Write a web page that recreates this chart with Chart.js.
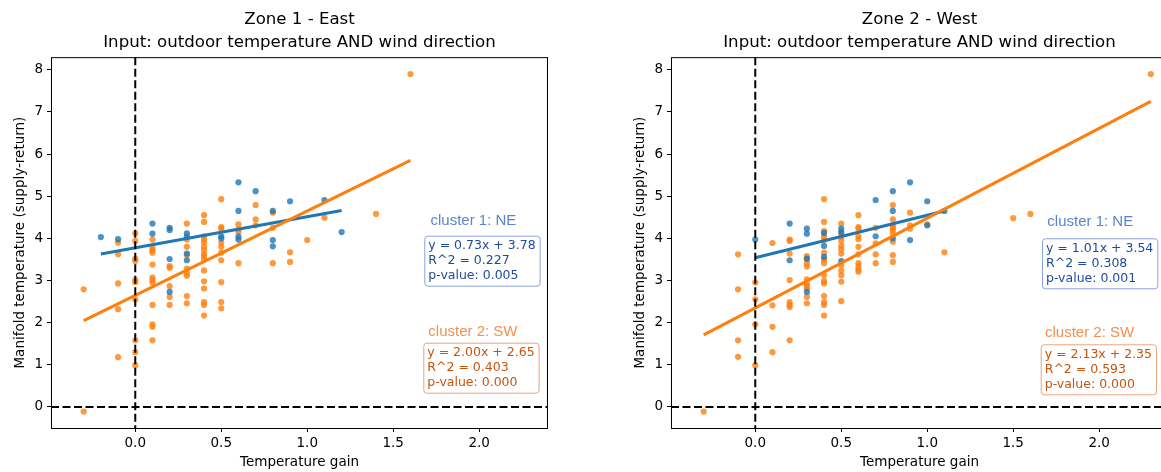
<!DOCTYPE html>
<html>
<head>
<meta charset="utf-8">
<script src="https://cdn.jsdelivr.net/npm/chart.js@4.4.1/dist/chart.umd.min.js"></script>
<style>
  html, body { margin: 0; padding: 0; background: #fff; overflow: hidden; }
  body { width: 1161px; height: 472px; position: relative; }
  .pane { position: absolute; top: 0; height: 472px; overflow: hidden; }
  #paneEast { left: 0; width: 580px; }
  #paneWest { left: 620px; width: 541px; }
  canvas { position: absolute; left: 0; top: 0; }
</style>
</head>
<body>
<div class="pane" id="paneEast"><canvas id="east" width="580" height="472"></canvas></div>
<div class="pane" id="paneWest"><canvas id="west" width="580" height="472"></canvas></div>
<script>
/* Zone scatter: temperature gain vs manifold temperature, two wind clusters */
const xTicks = [0, 0.5, 1.0, 1.5, 2.0];
const yTicks = [0, 1, 2, 3, 4, 5, 6, 7, 8];

// Zone 1 - East, cluster 1 (NE)
const eastNeX = [-0.2, -0.1, 0.1, 0.1, 0.2, 0.2, 0.2, 0.2, 0.3, 0.3, 0.3, 0.3, 0.5, 0.5,
  0.6, 0.6, 0.6, 0.6, 0.7, 0.8, 0.8, 0.8, 0.9, 1.1, 1.2];
const eastNeY = [4.03, 3.98, 4.35, 4.11, 4.25, 4.20, 3.51, 2.73, 4.12, 4.04, 3.64, 3.48, 4.05, 4.00,
  5.33, 4.65, 4.04, 3.97, 5.12, 4.65, 3.96, 3.81, 4.88, 4.91, 4.15];

// Zone 1 - East, cluster 2 (SW)
const eastSwX = [-0.3, -0.3,
  -0.1, -0.1, -0.1, -0.1, -0.1,
  0, 0, 0, 0, 0, 0, 0, 0, 0, 0,
  0.1, 0.1, 0.1, 0.1, 0.1, 0.1, 0.1, 0.1, 0.1, 0.1, 0.1, 0.1,
  0.2, 0.2, 0.2, 0.2, 0.2,
  0.3, 0.3, 0.3, 0.3, 0.3, 0.3, 0.3, 0.3, 0.3,
  0.4, 0.4, 0.4, 0.4, 0.4, 0.4, 0.4, 0.4, 0.4, 0.4, 0.4, 0.4, 0.4, 0.4, 0.4, 0.4,
  0.5, 0.5, 0.5, 0.5, 0.5, 0.5, 0.5, 0.5, 0.5, 0.5,
  0.6, 0.6, 0.6, 0.6,
  0.7, 0.7, 0.7,
  0.8, 0.8, 0.8,
  0.9, 0.9,
  1.0, 1.1, 1.4, 1.6];
const eastSwY = [2.79, -0.11,
  3.90, 3.62, 2.93, 2.32, 1.18,
  4.12, 3.94, 3.52, 3.46, 3.01, 2.96, 2.55, 1.58, 1.30, 0.99,
  3.97, 3.78, 3.72, 3.66, 3.38, 3.07, 3.01, 2.95, 2.42, 1.96, 1.90, 1.58,
  3.34, 3.30, 2.87, 2.61, 2.42,
  4.35, 3.97, 3.80, 3.60, 3.28, 3.18, 3.11, 2.63, 2.46,
  4.55, 4.39, 4.05, 3.97, 3.90, 3.80, 3.72, 3.62, 3.58, 3.50, 3.24, 2.98, 2.81, 2.49, 2.42, 2.17,
  4.93, 4.27, 4.23, 3.90, 3.80, 3.66, 3.48, 2.96, 2.49, 2.34,
  4.33, 4.21, 4.15, 3.41,
  4.79, 4.45, 4.31,
  4.61, 4.25, 3.41,
  3.67, 3.44,
  3.96, 4.49, 4.58, 7.90];

// Zone 2 - West, cluster 1 (NE)
const westNeX = [0, 0.2, 0.2, 0.3, 0.3, 0.3, 0.3, 0.4, 0.4, 0.4, 0.5, 0.5, 0.5,
  0.7, 0.7, 0.8, 0.8, 0.8, 0.9, 0.9, 1.0, 1.0, 1.1];
const westNeY = [3.97, 4.35, 3.48, 4.23, 4.11, 3.52, 2.73, 4.13, 3.82, 3.56, 4.23, 4.15, 3.46,
  4.91, 4.05, 5.12, 4.65, 4.00, 5.33, 3.96, 4.88, 4.31, 4.65];

// Zone 2 - West, cluster 2 (SW)
const westSwX = [-0.3,
  -0.1, -0.1, -0.1, -0.1,
  0, 0, 0, 0,
  0.1, 0.1, 0.1, 0.1,
  0.2, 0.2, 0.2, 0.2, 0.2, 0.2, 0.2, 0.2,
  0.3, 0.3, 0.3, 0.3, 0.3, 0.3, 0.3, 0.3, 0.3, 0.3,
  0.4, 0.4, 0.4, 0.4, 0.4, 0.4, 0.4, 0.4, 0.4, 0.4, 0.4, 0.4, 0.4, 0.4, 0.4,
  0.5, 0.5, 0.5, 0.5, 0.5, 0.5, 0.5, 0.5, 0.5, 0.5, 0.5, 0.5,
  0.6, 0.6, 0.6, 0.6, 0.6, 0.6, 0.6, 0.6, 0.6, 0.6, 0.6,
  0.7, 0.7, 0.7, 0.7,
  0.8, 0.8, 0.8, 0.8, 0.8, 0.8, 0.8, 0.8, 0.8,
  0.9, 0.9, 0.9,
  1.0, 1.1, 1.5, 1.6, 2.3];
const westSwY = [-0.11,
  3.62, 2.79, 1.58, 1.19,
  2.95, 2.55, 1.96, 0.99,
  3.89, 2.41, 1.90, 1.30,
  3.97, 3.94, 3.64, 3.01, 2.49, 2.42, 2.37, 1.58,
  3.58, 3.50, 3.41, 3.33, 3.03, 2.92, 2.87, 2.81, 2.61, 2.46,
  4.93, 4.39, 4.17, 4.04, 3.96, 3.66, 3.50, 3.41, 3.13, 2.99, 2.93, 2.63, 2.49, 2.42, 2.17,
  4.35, 4.12, 4.04, 3.94, 3.82, 3.74, 3.64, 3.36, 3.23, 3.12, 2.97, 2.51,
  4.55, 4.27, 4.23, 4.05, 3.98, 3.80, 3.62, 3.41, 3.33, 3.26, 3.21,
  4.25, 3.88, 3.62, 3.41,
  4.79, 4.45, 4.31, 4.25, 4.20, 4.12, 3.92, 3.60, 3.44,
  4.61, 4.31, 4.23,
  4.33, 3.67, 4.48, 4.58, 7.90];

// regression line ends
const eastNeFitX = [-0.2, 1.2];
const eastNeFitY = [3.63, 4.66];
const eastSwFitX = [-0.3, 1.6];
const eastSwFitY = [2.05, 5.85];
const westNeFitX = [0, 1.1];
const westNeFitY = [3.54, 4.65];
const westSwFitX = [-0.3, 2.3];
const westSwFitY = [1.71, 7.25];

const eastNeStats = ['y = 0.73x + 3.78', 'R^2 = 0.227', 'p-value: 0.005'];
const eastSwStats = ['y = 2.00x + 2.65', 'R^2 = 0.403', 'p-value: 0.000'];
const westNeStats = ['y = 1.01x + 3.54', 'R^2 = 0.308', 'p-value: 0.001'];
const westSwStats = ['y = 2.13x + 2.35', 'R^2 = 0.593', 'p-value: 0.000'];

const BLUE = '#1f77b4';
const ORANGE = '#ff7f0e';
const NE_STYLE = { label: '#5b84cc', text: '#1f4b9b', border: '#88a3d8' };
const SW_STYLE = { label: '#f3914f', text: '#c4560e', border: '#eba47a' };

Chart.defaults.font.family = 'DejaVu Sans';
Chart.defaults.color = '#000';

const pts = (xs, ys) => xs.map((x, i) => ({ x, y: ys[i] }));

function scatterSet(label, xs, ys, color) {
  return {
    type: 'scatter',
    label,
    data: pts(xs, ys),
    backgroundColor: color,
    borderWidth: 0,
    pointRadius: 3.1,
    pointHoverRadius: 3.1,
    order: 3,
  };
}

function fitSet(label, xs, ys, color, order) {
  return {
    type: 'line',
    label,
    data: pts(xs, ys),
    borderColor: color,
    borderWidth: 3,
    pointRadius: 0,
    fill: false,
    tension: 0,
    order,
  };
}

// dashed zero lines + frame box
const zeroLines = {
  id: 'zeroLines',
  afterDatasetsDraw(chart) {
    const { ctx, chartArea: a, scales: { x, y } } = chart;
    const px = x.getPixelForValue(0);
    const py = y.getPixelForValue(0);
    ctx.save();
    ctx.strokeStyle = '#000';
    ctx.lineWidth = 2;
    ctx.setLineDash([8, 3.5]);
    ctx.beginPath();
    ctx.moveTo(px, a.top);
    ctx.lineTo(px, a.bottom);
    ctx.moveTo(a.left, py);
    ctx.lineTo(a.right, py);
    ctx.stroke();
    ctx.setLineDash([]);
    ctx.lineWidth = 1;
    ctx.strokeRect(a.left + 0.5, a.top + 0.5, a.right - a.left - 1, a.bottom - a.top);
    ctx.restore();
  },
};

// cluster labels and stat boxes
const statBoxes = {
  id: 'statBoxes',
  afterDraw(chart, args, opts) {
    const { ctx, chartArea: a } = chart;
    (opts.boxes || []).forEach((b) => {
      const st = b.style;
      ctx.save();
      ctx.textBaseline = 'middle';
      ctx.textAlign = 'left';
      ctx.font = '15px "Liberation Sans"';
      ctx.fillStyle = st.label;
      ctx.fillText(b.title, a.left + b.lx, b.ly);

      ctx.font = '12.5px "DejaVu Sans"';
      const w = Math.max(...b.lines.map((s) => ctx.measureText(s).width)) + 8;
      const bx = a.left + b.bx;
      ctx.strokeStyle = st.border;
      ctx.lineWidth = 1;
      ctx.beginPath();
      ctx.roundRect(bx + 0.5, b.by + 0.5, w, 50, 3);
      ctx.fillStyle = '#fff';
      ctx.fill();
      ctx.stroke();
      ctx.fillStyle = st.text;
      b.lines.forEach((s, i) => ctx.fillText(s, bx + 4, b.by + 10.5 + i * 14.8));
      ctx.restore();
    });
  },
};

function zoneChart(id, titleText, neX, neY, swX, swY, neFit, swFit, boxes) {
  return new Chart(document.getElementById(id), {
    data: {
      datasets: [
        scatterSet('cluster 1: NE', neX, neY, 'rgba(31,119,180,0.8)'),
        scatterSet('cluster 2: SW', swX, swY, 'rgba(255,127,14,0.8)'),
        fitSet('fit NE', neFit[0], neFit[1], BLUE, 2),
        fitSet('fit SW', swFit[0], swFit[1], ORANGE, 1),
      ],
    },
    options: {
      responsive: false,
      animation: false,
      events: [],
      layout: { padding: { left: 0, right: 32, top: 0, bottom: 0 } },
      plugins: {
        legend: { display: false },
        tooltip: { enabled: false },
        title: {
          display: true,
          fullSize: false,
          text: titleText,
          font: { size: 16.6, weight: 'normal', lineHeight: 1.39 },
          padding: { top: 8.5, bottom: 2.5 },
          color: '#000',
        },
        statBoxes: { boxes },
      },
      scales: {
        x: {
          type: 'linear',
          min: -0.49,
          max: 2.40,
          afterBuildTicks: (s) => { s.ticks = xTicks.map((v) => ({ value: v })); },
          afterFit: (s) => { s.height = 44; },
          ticks: {
            padding: 3,
            font: { size: 13.5 },
            callback: (v) => Number(v).toFixed(1),
          },
          grid: { drawOnChartArea: false, drawTicks: true, tickLength: 4, color: '#000' },
          border: { display: false },
          title: {
            display: true,
            text: 'Temperature gain',
            font: { size: 13.5 },
            padding: { top: 0, bottom: 1 },
          },
        },
        y: {
          type: 'linear',
          min: -0.5,
          max: 8.3,
          afterBuildTicks: (s) => { s.ticks = yTicks.map((v) => ({ value: v })); },
          afterFit: (s) => { s.width = 51; },
          ticks: {
            padding: 4,
            font: { size: 13.5 },
            callback: (v) => String(v),
          },
          grid: { drawOnChartArea: false, drawTicks: true, tickLength: 4, color: '#000' },
          border: { display: false },
          title: {
            display: true,
            text: 'Manifold temperature (supply-return)',
            font: { size: 13.5 },
            padding: { top: 12, bottom: 0 },
          },
        },
      },
    },
    plugins: [zeroLines, statBoxes],
  });
}

zoneChart('east', ['Zone 1 - East', 'Input: outdoor temperature AND wind direction'],
  eastNeX, eastNeY, eastSwX, eastSwY,
  [eastNeFitX, eastNeFitY], [eastSwFitX, eastSwFitY],
  [
    { title: 'cluster 1: NE', lines: eastNeStats, style: NE_STYLE, lx: 379.5, ly: 220.7, bx: 373.3, by: 235.7 },
    { title: 'cluster 2: SW', lines: eastSwStats, style: SW_STYLE, lx: 377.3, ly: 331.7, bx: 372.3, by: 342.7 },
  ]);

zoneChart('west', ['Zone 2 - West', 'Input: outdoor temperature AND wind direction'],
  westNeX, westNeY, westSwX, westSwY,
  [westNeFitX, westNeFitY], [westSwFitX, westSwFitY],
  [
    { title: 'cluster 1: NE', lines: westNeStats, style: NE_STYLE, lx: 376.3, ly: 222.3, bx: 371, by: 238.3 },
    { title: 'cluster 2: SW', lines: westSwStats, style: SW_STYLE, lx: 374, ly: 333.3, bx: 369.7, by: 344.3 },
  ]);
</script>
</body>
</html>
